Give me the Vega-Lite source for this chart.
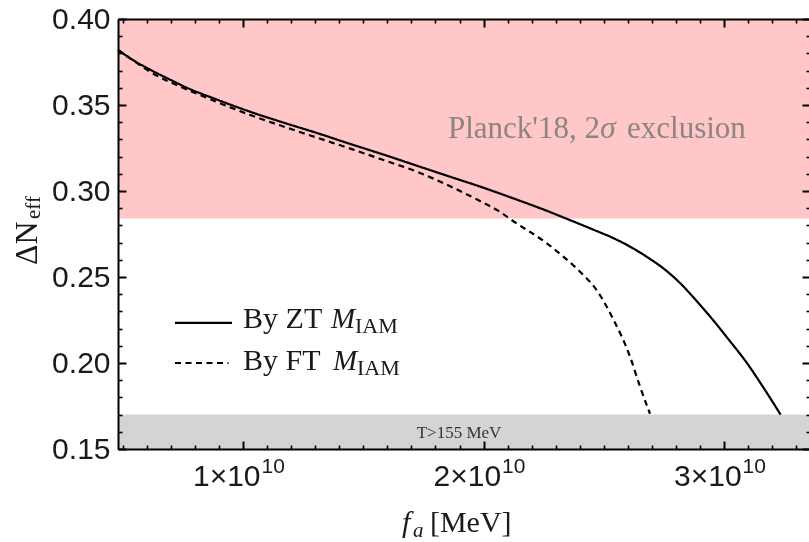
{
  "$schema": "https://vega.github.io/schema/vega-lite/v6.json",
  "width": 692,
  "height": 430,
  "autosize": {"type": "none"},
  "padding": {"left": 118, "top": 19, "right": 0, "bottom": 93},
  "background": "white",
  "config": {
    "view": {"stroke": null},
    "axis": {"grid": false, "zindex": 1, "title": null, "tickColor": "black", "domainColor": "black"}
  },
  "resolve": {"axis": {"x": "independent", "y": "independent"}},
  "layer": [
    {
      "data": {"values": [
        {"band": "Planck", "lo": 0.284, "hi": 0.40},
        {"band": "QCD", "lo": 0.15, "hi": 0.17}
      ]},
      "mark": {"type": "rect", "blend": "multiply"},
      "encoding": {
        "x": {"datum": 4800000000, "type": "quantitative", "scale": {"domain": [4800000000, 33573000000], "nice": false, "zero": false}, "axis": null},
        "x2": {"datum": 33573000000},
        "y": {"field": "lo", "type": "quantitative", "scale": {"domain": [0.15, 0.40], "nice": false, "zero": false}, "axis": null},
        "y2": {"field": "hi"},
        "color": {"field": "band", "type": "nominal", "scale": {"domain": ["Planck", "QCD"], "range": ["#ffc7c8", "#d4d4d4"]}, "legend": null}
      }
    },
    {
      "data": {"values": [
        {"series": "ZT", "fa": 4800000000, "dn": 0.382},
        {"series": "ZT", "fa": 5500000000, "dn": 0.3755},
        {"series": "ZT", "fa": 6170000000, "dn": 0.3703},
        {"series": "ZT", "fa": 7000000000, "dn": 0.3645},
        {"series": "ZT", "fa": 7590000000, "dn": 0.3605},
        {"series": "ZT", "fa": 8960000000, "dn": 0.3529},
        {"series": "ZT", "fa": 10330000000, "dn": 0.3459},
        {"series": "ZT", "fa": 11740000000, "dn": 0.3395},
        {"series": "ZT", "fa": 13120000000, "dn": 0.3335},
        {"series": "ZT", "fa": 14490000000, "dn": 0.3272},
        {"series": "ZT", "fa": 15900000000, "dn": 0.3209},
        {"series": "ZT", "fa": 17270000000, "dn": 0.3145},
        {"series": "ZT", "fa": 18650000000, "dn": 0.3081},
        {"series": "ZT", "fa": 19850000000, "dn": 0.3026},
        {"series": "ZT", "fa": 21220000000, "dn": 0.2958},
        {"series": "ZT", "fa": 22500000000, "dn": 0.2892},
        {"series": "ZT", "fa": 23590000000, "dn": 0.2831},
        {"series": "ZT", "fa": 24500000000, "dn": 0.2779},
        {"series": "ZT", "fa": 25380000000, "dn": 0.2727},
        {"series": "ZT", "fa": 26200000000, "dn": 0.2668},
        {"series": "ZT", "fa": 26800000000, "dn": 0.2616},
        {"series": "ZT", "fa": 27460000000, "dn": 0.2552},
        {"series": "ZT", "fa": 28170000000, "dn": 0.2465},
        {"series": "ZT", "fa": 28800000000, "dn": 0.237},
        {"series": "ZT", "fa": 29540000000, "dn": 0.225},
        {"series": "ZT", "fa": 30200000000, "dn": 0.2135},
        {"series": "ZT", "fa": 30950000000, "dn": 0.2},
        {"series": "ZT", "fa": 31600000000, "dn": 0.1865},
        {"series": "ZT", "fa": 32350000000, "dn": 0.17},
        {"series": "FT", "fa": 4800000000, "dn": 0.382},
        {"series": "FT", "fa": 5500000000, "dn": 0.3752},
        {"series": "FT", "fa": 6170000000, "dn": 0.369},
        {"series": "FT", "fa": 7590000000, "dn": 0.3595},
        {"series": "FT", "fa": 8960000000, "dn": 0.3515},
        {"series": "FT", "fa": 10330000000, "dn": 0.344},
        {"series": "FT", "fa": 11740000000, "dn": 0.3372},
        {"series": "FT", "fa": 13120000000, "dn": 0.3308},
        {"series": "FT", "fa": 14490000000, "dn": 0.3245},
        {"series": "FT", "fa": 15900000000, "dn": 0.3177},
        {"series": "FT", "fa": 17270000000, "dn": 0.311},
        {"series": "FT", "fa": 18650000000, "dn": 0.3025},
        {"series": "FT", "fa": 19850000000, "dn": 0.2942},
        {"series": "FT", "fa": 20600000000, "dn": 0.2886},
        {"series": "FT", "fa": 21240000000, "dn": 0.2824},
        {"series": "FT", "fa": 22630000000, "dn": 0.2696},
        {"series": "FT", "fa": 23320000000, "dn": 0.2618},
        {"series": "FT", "fa": 24010000000, "dn": 0.2531},
        {"series": "FT", "fa": 24700000000, "dn": 0.2424},
        {"series": "FT", "fa": 25390000000, "dn": 0.2255},
        {"series": "FT", "fa": 26090000000, "dn": 0.2037},
        {"series": "FT", "fa": 26500000000, "dn": 0.1865},
        {"series": "FT", "fa": 26920000000, "dn": 0.1705}
      ]},
      "mark": {"type": "line", "color": "black", "strokeWidth": 2.2, "interpolate": "monotone"},
      "encoding": {
        "x": {"field": "fa", "type": "quantitative", "scale": {"domain": [4800000000, 33573000000], "nice": false, "zero": false},
          "axis": {"orient": "bottom", "zindex": 2, "values": [10000000000, 20000000000, 30000000000], "labelExpr": "round(datum.value/1e10) + '×10'", "labelFont": "Liberation Sans", "labelFontSize": 30, "labelColor": "#1a1a1a", "labelAlign": "right", "labelOffset": 17, "labelBaseline": "alphabetic", "labelPadding": 44, "tickSize": -8, "tickWidth": 2, "domainWidth": 2, "labelFlush": false, "labelOverlap": false}},
        "y": {"field": "dn", "type": "quantitative", "scale": {"domain": [0.15, 0.40], "nice": false, "zero": false},
          "axis": {"orient": "left", "zindex": 2, "values": [0.15, 0.2, 0.25, 0.3, 0.35, 0.4], "format": ".2f", "labelFont": "Liberation Sans", "labelFontSize": 30, "labelColor": "#1a1a1a", "tickSize": -8, "tickWidth": 2, "domainWidth": 2, "labelPadding": 16, "labelFlush": false, "labelOverlap": false}},
        "strokeDash": {"field": "series", "type": "nominal", "scale": {"domain": ["ZT", "FT"], "range": [[1, 0], [6, 4.5]]}, "legend": null}
      }
    },
    {
      "data": {"values": [{"t": "Planck'18, 2"}]},
      "mark": {"type": "text", "font": "Liberation Serif", "fontSize": 31, "color": "#8c8484", "align": "left", "baseline": "alphabetic"},
      "encoding": {
        "x": {"datum": 18521000000, "type": "quantitative", "scale": {"domain": [4800000000, 33573000000], "nice": false, "zero": false},
          "axis": {"orient": "bottom", "zindex": 2, "values": [5000000000, 6000000000, 7000000000, 8000000000, 9000000000, 11000000000, 12000000000, 13000000000, 14000000000, 15000000000, 16000000000, 17000000000, 18000000000, 19000000000, 21000000000, 22000000000, 23000000000, 24000000000, 25000000000, 26000000000, 27000000000, 28000000000, 29000000000, 31000000000, 32000000000, 33000000000], "labels": false, "domain": false, "tickSize": -4, "tickWidth": 1.6}},
        "y": {"datum": 0.331, "type": "quantitative", "scale": {"domain": [0.15, 0.40], "nice": false, "zero": false},
          "axis": {"orient": "left", "zindex": 2, "values": [0.16, 0.17, 0.18, 0.19, 0.21, 0.22, 0.23, 0.24, 0.26, 0.27, 0.28, 0.29, 0.31, 0.32, 0.33, 0.34, 0.36, 0.37, 0.38, 0.39], "labels": false, "domain": false, "tickSize": -4, "tickWidth": 1.6}},
        "text": {"field": "t"}
      }
    },
    {
      "data": {"values": [{"t": "σ"}]},
      "mark": {"type": "text", "font": "Liberation Serif", "fontSize": 32, "fontStyle": "italic", "color": "#8c8484", "align": "left", "baseline": "alphabetic"},
      "encoding": {
        "x": {"datum": 24841000000, "type": "quantitative", "scale": {"domain": [4800000000, 33573000000], "nice": false, "zero": false},
          "axis": {"orient": "top", "zindex": 2, "values": [10000000000, 20000000000, 30000000000], "labels": false, "tickSize": -8, "tickWidth": 2, "domainWidth": 2}},
        "y": {"datum": 0.331, "type": "quantitative", "scale": {"domain": [0.15, 0.40], "nice": false, "zero": false},
          "axis": {"orient": "right", "zindex": 2, "values": [0.15, 0.2, 0.25, 0.3, 0.35, 0.4], "labels": false, "tickSize": -8, "tickWidth": 2, "domainWidth": 2}},
        "text": {"field": "t"}
      }
    },
    {
      "data": {"values": [{"t": "exclusion"}]},
      "mark": {"type": "text", "font": "Liberation Serif", "fontSize": 31, "color": "#8c8484", "align": "left", "baseline": "alphabetic"},
      "encoding": {
        "x": {"datum": 25964000000, "type": "quantitative", "scale": {"domain": [4800000000, 33573000000], "nice": false, "zero": false},
          "axis": {"orient": "top", "zindex": 2, "values": [5000000000, 6000000000, 7000000000, 8000000000, 9000000000, 11000000000, 12000000000, 13000000000, 14000000000, 15000000000, 16000000000, 17000000000, 18000000000, 19000000000, 21000000000, 22000000000, 23000000000, 24000000000, 25000000000, 26000000000, 27000000000, 28000000000, 29000000000, 31000000000, 32000000000, 33000000000], "labels": false, "domain": false, "tickSize": -4, "tickWidth": 1.6}},
        "y": {"datum": 0.331, "type": "quantitative", "scale": {"domain": [0.15, 0.40], "nice": false, "zero": false},
          "axis": {"orient": "right", "zindex": 2, "values": [0.16, 0.17, 0.18, 0.19, 0.21, 0.22, 0.23, 0.24, 0.26, 0.27, 0.28, 0.29, 0.31, 0.32, 0.33, 0.34, 0.36, 0.37, 0.38, 0.39], "labels": false, "domain": false, "tickSize": -4, "tickWidth": 1.6}},
        "text": {"field": "t"}
      }
    },
    {
      "data": {"values": [{"t": "T>155 MeV"}]},
      "mark": {"type": "text", "font": "Liberation Serif", "fontSize": 17, "color": "#333333", "align": "center", "baseline": "alphabetic"},
      "encoding": {
        "x": {"datum": 18979000000, "type": "quantitative", "scale": {"domain": [4800000000, 33573000000], "nice": false, "zero": false},
          "axis": {"orient": "bottom", "zindex": 2, "values": [10000000000, 20000000000, 30000000000], "labelExpr": "'10'", "labelFont": "Liberation Sans", "labelFontSize": 21, "labelColor": "#1a1a1a", "labelAlign": "left", "labelOffset": 18, "labelBaseline": "alphabetic", "labelPadding": 23, "ticks": false, "domain": false, "labelFlush": false, "labelOverlap": false}},
        "y": {"datum": 0.1564, "type": "quantitative", "scale": {"domain": [0.15, 0.40], "nice": false, "zero": false}, "axis": null},
        "text": {"field": "t"}
      }
    },
    {
      "data": {"values": [{"k": "ZT"}]},
      "mark": {"type": "rule", "color": "black", "strokeWidth": 2.2},
      "encoding": {
        "x": {"datum": 7170000000, "type": "quantitative", "scale": {"domain": [4800000000, 33573000000], "nice": false, "zero": false}, "axis": null},
        "x2": {"datum": 9540000000},
        "y": {"datum": 0.2233, "type": "quantitative", "scale": {"domain": [0.15, 0.40], "nice": false, "zero": false}, "axis": null}
      }
    },
    {
      "data": {"values": [{"k": "FT"}]},
      "mark": {"type": "rule", "color": "black", "strokeWidth": 2, "strokeDash": [6, 4.5]},
      "encoding": {
        "x": {"datum": 7170000000, "type": "quantitative", "scale": {"domain": [4800000000, 33573000000], "nice": false, "zero": false}, "axis": null},
        "x2": {"datum": 9400000000},
        "y": {"datum": 0.2, "type": "quantitative", "scale": {"domain": [0.15, 0.40], "nice": false, "zero": false}, "axis": null}
      }
    },
    {
      "data": {"values": [{"t": "By ZT", "yy": 0.2204}, {"t": "By FT", "yy": 0.1959}]},
      "mark": {"type": "text", "font": "Liberation Serif", "fontSize": 30, "color": "#1a1a1a", "align": "left", "baseline": "alphabetic"},
      "encoding": {
        "x": {"datum": 10000000000, "type": "quantitative", "scale": {"domain": [4800000000, 33573000000], "nice": false, "zero": false}, "axis": null},
        "y": {"field": "yy", "type": "quantitative", "scale": {"domain": [0.15, 0.40], "nice": false, "zero": false}, "axis": null},
        "text": {"field": "t"}
      }
    },
    {
      "data": {"values": [{"t": "M", "xx": 13657000000, "yy": 0.2204}, {"t": "M", "xx": 13740000000, "yy": 0.1959}]},
      "mark": {"type": "text", "font": "Liberation Serif", "fontSize": 29, "fontStyle": "italic", "color": "#1a1a1a", "align": "left", "baseline": "alphabetic"},
      "encoding": {
        "x": {"field": "xx", "type": "quantitative", "scale": {"domain": [4800000000, 33573000000], "nice": false, "zero": false}, "axis": null},
        "y": {"field": "yy", "type": "quantitative", "scale": {"domain": [0.15, 0.40], "nice": false, "zero": false}, "axis": null},
        "text": {"field": "t"}
      }
    },
    {
      "data": {"values": [{"t": "IAM", "xx": 14655000000, "yy": 0.2175}, {"t": "IAM", "xx": 14738000000, "yy": 0.193}]},
      "mark": {"type": "text", "font": "Liberation Serif", "fontSize": 22, "color": "#1a1a1a", "align": "left", "baseline": "alphabetic"},
      "encoding": {
        "x": {"field": "xx", "type": "quantitative", "scale": {"domain": [4800000000, 33573000000], "nice": false, "zero": false}, "axis": null},
        "y": {"field": "yy", "type": "quantitative", "scale": {"domain": [0.15, 0.40], "nice": false, "zero": false}, "axis": null},
        "text": {"field": "t"}
      }
    },
    {
      "data": {"values": [{"t": "f"}]},
      "mark": {"type": "text", "font": "Liberation Serif", "fontSize": 30, "fontStyle": "italic", "color": "#1a1a1a", "align": "left", "baseline": "alphabetic"},
      "encoding": {
        "x": {"datum": 16610000000, "type": "quantitative", "scale": {"domain": [4800000000, 33573000000], "nice": false, "zero": false}, "axis": null},
        "y": {"datum": 0.1017, "type": "quantitative", "scale": {"domain": [0.15, 0.40], "nice": false, "zero": false}, "axis": null},
        "text": {"field": "t"}
      }
    },
    {
      "data": {"values": [{"t": "a"}]},
      "mark": {"type": "text", "font": "Liberation Serif", "fontSize": 21, "fontStyle": "italic", "color": "#1a1a1a", "align": "left", "baseline": "alphabetic"},
      "encoding": {
        "x": {"datum": 17070000000, "type": "quantitative", "scale": {"domain": [4800000000, 33573000000], "nice": false, "zero": false}, "axis": null},
        "y": {"datum": 0.0988, "type": "quantitative", "scale": {"domain": [0.15, 0.40], "nice": false, "zero": false}, "axis": null},
        "text": {"field": "t"}
      }
    },
    {
      "data": {"values": [{"t": "[MeV]"}]},
      "mark": {"type": "text", "font": "Liberation Serif", "fontSize": 30, "color": "#1a1a1a", "align": "left", "baseline": "alphabetic"},
      "encoding": {
        "x": {"datum": 17770000000, "type": "quantitative", "scale": {"domain": [4800000000, 33573000000], "nice": false, "zero": false}, "axis": null},
        "y": {"datum": 0.1017, "type": "quantitative", "scale": {"domain": [0.15, 0.40], "nice": false, "zero": false}, "axis": null},
        "text": {"field": "t"}
      }
    },
    {
      "data": {"values": [{"t": "ΔN"}]},
      "mark": {"type": "text", "font": "Liberation Serif", "fontSize": 32, "angle": 270, "color": "#1a1a1a", "align": "left", "baseline": "alphabetic"},
      "encoding": {
        "x": {"datum": 1432000000, "type": "quantitative", "scale": {"domain": [4800000000, 33573000000], "nice": false, "zero": false}, "axis": null},
        "y": {"datum": 0.257, "type": "quantitative", "scale": {"domain": [0.15, 0.40], "nice": false, "zero": false}, "axis": null},
        "text": {"field": "t"}
      }
    },
    {
      "data": {"values": [{"t": "eff"}]},
      "mark": {"type": "text", "font": "Liberation Serif", "fontSize": 21, "angle": 270, "color": "#1a1a1a", "align": "left", "baseline": "alphabetic"},
      "encoding": {
        "x": {"datum": 1557000000, "type": "quantitative", "scale": {"domain": [4800000000, 33573000000], "nice": false, "zero": false}, "axis": null},
        "y": {"datum": 0.2837, "type": "quantitative", "scale": {"domain": [0.15, 0.40], "nice": false, "zero": false}, "axis": null},
        "text": {"field": "t"}
      }
    }
  ]
}
